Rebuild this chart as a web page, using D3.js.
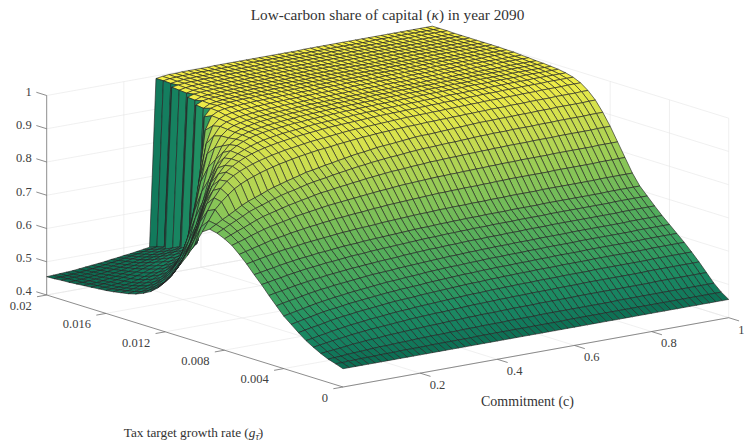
<!DOCTYPE html>
<html>
<head>
<meta charset="utf-8">
<style>
	body { margin: 0; background: #fff; }
	svg { display: block; font-family: "Liberation Serif", "DejaVu Serif", serif; }
</style>
</head>
<body>
<div id="chart"></div>
<script src="https://cdnjs.cloudflare.com/ajax/libs/d3/7.8.5/d3.min.js"></script>
<script>
var zTicks = [0.4, 0.5, 0.6, 0.7, 0.8, 0.9, 1];
var zLabels = ['0.4', '0.5', '0.6', '0.7', '0.8', '0.9', '1'];
var cTicks = [0.2, 0.4, 0.6, 0.8, 1];
var cLabels = ['0.2', '0.4', '0.6', '0.8', '1'];
var gTicks = [0, 0.004, 0.008, 0.012, 0.016, 0.02];
var gLabels = ['0', '0.004', '0.008', '0.012', '0.016', '0.02'];

// grid of the surface: 61 commitment columns, 41 tax growth rows
var commitment = d3.range(61).map(function (i) { return i / 60; });
var taxGrowth = d3.range(41).map(function (i) { return i * 0.0005; });

// kappa x 1000, one row per taxGrowth value
var kappa = [
[455,455,455,455,455,455,455,455,455,455, 455,455,455,455,455,455,455,455,455,455, 455,455,455,455,455,455,455,455,455,455, 455,455,455,455,455,455,455,455,455,455, 455,455,455,455,455,455,455,455,455,455, 455,455,455,455,455,455,455,455,455,455,455],
[463,463,464,464,465,465,465,466,466,466, 467,467,467,467,467,468,468,468,468,468, 468,468,469,469,469,469,469,469,469,469, 469,469,469,469,469,469,470,470,470,470, 470,470,470,470,470,470,470,470,470,470, 470,470,470,470,470,470,470,470,470,470,470],
[470,471,472,474,475,476,477,478,479,479, 480,481,481,482,483,483,484,484,484,485, 485,486,486,486,487,487,487,487,488,488, 488,488,488,489,489,489,489,489,489,489, 489,489,489,489,489,490,490,490,490,490, 490,490,490,490,490,490,490,490,490,490,490],
[480,482,484,486,488,491,492,494,495,496, 498,499,500,501,502,503,504,505,505,506, 507,507,508,509,509,510,510,510,511,511, 512,512,512,512,513,513,513,513,513,513, 514,514,514,514,514,514,514,514,514,514, 514,514,515,515,515,515,515,515,515,515,515],
[492,495,498,501,504,506,509,511,513,515, 516,518,519,521,522,524,525,526,527,528, 528,529,530,531,532,533,533,534,534,535, 535,536,536,536,537,537,537,537,538,538, 538,538,539,539,539,539,539,539,539,539, 539,539,540,540,540,540,540,540,540,540,540],
[505,508,512,515,519,522,525,528,530,532, 535,536,538,540,542,543,544,546,547,548, 549,550,551,552,553,554,555,555,556,557, 557,558,558,559,559,559,560,560,560,560, 561,561,561,561,561,562,562,562,562,562, 562,562,562,562,563,563,563,563,563,563,563],
[522,526,530,533,537,541,544,547,549,552, 554,556,558,560,562,564,565,566,567,569, 570,571,572,573,574,575,576,577,577,578, 579,579,580,580,581,581,581,582,582,582, 582,583,583,583,583,583,584,584,584,584, 584,584,584,584,584,585,585,585,585,585,585],
[540,544,548,552,556,560,563,565,568,571, 573,575,577,579,581,583,584,586,587,588, 589,591,592,593,594,595,596,597,597,598, 599,599,600,600,600,601,601,601,602,602, 602,603,603,603,603,603,604,604,604,604, 604,604,604,604,604,605,605,605,605,605,605],
[558,562,566,570,574,578,581,584,587,589, 592,594,596,598,600,602,604,605,606,608, 609,610,612,613,614,615,616,616,617,618, 618,619,620,620,620,621,621,621,622,622, 622,623,623,623,623,623,624,624,624,624, 624,624,624,624,624,625,625,625,625,625,625],
[582,586,590,593,597,601,604,607,609,612, 614,616,618,620,622,624,625,626,627,629, 630,631,632,633,634,635,636,637,637,638, 639,639,640,640,641,641,641,642,642,642, 642,643,643,643,643,643,644,644,644,644, 644,644,644,644,644,645,645,645,645,645,645],
[606,610,613,617,621,624,627,630,632,635, 637,639,641,643,644,646,647,649,650,651, 652,654,655,656,657,658,658,659,660,660, 661,662,662,662,663,663,663,664,664,664, 665,665,665,665,666,666,666,666,666,666, 666,666,666,666,666,667,667,667,667,667,667],
[632,635,639,642,646,649,652,655,657,659, 662,663,665,667,669,670,671,673,674,675, 676,677,678,679,680,681,682,682,683,684, 684,685,685,686,686,686,687,687,687,687, 688,688,688,688,688,689,689,689,689,689, 689,689,689,689,689,690,690,690,690,690,690],
[655,658,662,665,669,672,675,678,680,682, 685,686,688,690,692,693,694,696,697,698, 699,700,701,702,703,704,705,705,706,707, 707,708,708,709,709,709,710,710,710,710, 711,711,711,711,711,712,712,712,712,712, 712,712,712,712,712,713,713,713,713,713,713],
[680,684,688,692,696,700,703,705,708,711, 713,715,717,719,721,723,724,726,727,728, 729,731,732,733,734,735,736,737,737,738, 739,739,740,740,740,741,741,741,742,742, 742,743,743,743,743,743,744,744,744,744, 744,744,744,744,744,745,745,745,745,745,745],
[702,707,712,717,722,727,731,734,738,741, 744,747,749,752,754,757,758,760,762,763, 765,767,768,770,771,772,773,774,775,776, 777,778,778,779,779,780,780,780,781,781, 782,782,783,783,783,783,783,783,783,784, 784,784,784,784,784,784,785,785,785,785,785],
[722,728,734,741,747,753,758,762,766,770, 775,778,781,784,787,790,792,794,796,798, 800,802,804,806,807,809,811,812,813,814, 815,816,817,817,818,818,819,819,820,820, 821,821,822,822,822,823,823,823,823,823, 824,824,824,824,824,824,824,825,825,825,825],
[735,743,751,758,766,774,781,786,791,796, 801,805,809,813,817,821,823,826,829,831, 834,836,839,841,843,845,847,848,849,851, 852,853,855,855,856,857,857,858,859,859, 860,860,861,861,862,862,862,862,863,863, 863,863,864,864,864,864,864,864,865,865,865],
[745,754,764,773,782,792,799,805,812,818, 824,829,833,838,843,847,850,853,857,860, 863,866,869,871,874,876,878,880,881,883, 885,886,888,888,889,890,891,891,892,893, 894,895,895,896,896,896,897,897,897,897, 898,898,898,899,899,899,899,899,900,900,900],
[750,761,772,782,793,804,813,820,827,835, 842,847,853,858,863,869,872,876,880,883, 887,890,894,897,899,902,905,907,908,910, 912,914,916,917,917,918,919,920,921,922, 923,924,925,925,925,926,926,926,927,927, 927,928,928,928,929,929,929,929,929,930,930],
[735,765,795,815,832,847,858,867,874,881, 887,892,897,901,905,909,912,915,918,920, 922,925,927,929,931,933,934,936,937,938, 939,940,941,941,942,943,943,944,944,945, 945,946,946,947,947,948,948,948,949,949, 949,950,950,950,950,951,951,951,951,952,952],
[690,740,785,820,845,863,876,886,894,901, 907,912,917,921,925,928,931,934,937,939, 941,943,945,947,949,950,951,952,953,954, 955,956,957,958,958,959,959,960,960,961, 961,962,962,963,963,964,964,964,965,965, 965,966,966,966,967,967,967,967,968,968,968],
[650,690,745,795,832,860,880,894,905,914, 921,927,932,936,940,943,946,949,951,953, 955,957,959,960,961,962,963,964,965,966, 967,967,968,968,969,969,970,970,971,971, 972,972,973,973,974,974,975,975,975,976, 976,976,977,977,977,977,978,978,978,978,978],
[615,645,685,735,790,835,868,890,906,918, 927,934,940,945,949,952,955,957,959,961, 963,965,966,967,968,969,970,971,972,973, 973,974,975,975,976,976,977,977,978,978, 979,979,980,980,980,981,981,981,982,982, 982,983,983,983,983,984,984,984,984,984,984],
[580,603,632,670,720,780,835,875,902,920, 932,941,948,953,957,960,962,964,966,968, 969,971,972,973,974,975,976,977,977,978, 979,979,980,980,981,981,982,982,983,983, 984,984,984,985,985,985,986,986,986,986, 987,987,987,987,987,988,988,988,988,988,988],
[550,565,588,615,650,700,765,825,875,908, 928,941,950,956,960,963,966,968,970,972, 973,975,976,977,978,979,980,980,981,982, 982,983,983,984,984,985,985,985,986,986, 986,987,987,987,988,988,988,988,989,989, 989,989,989,989,990,990,990,990,990,990,990],
[525,537,552,572,600,640,695,760,825,880, 917,938,951,958,963,967,970,972,974,975, 977,978,979,980,981,982,982,983,984,984, 985,985,986,986,987,987,987,988,988,988, 989,989,989,989,990,990,990,990,990,991, 991,991,991,991,991,992,992,992,992,992,992],
[507,516,527,543,565,595,640,705,780,850, 905,937,953,961,966,970,972,975,976,978, 979,980,981,982,983,984,984,985,985,986, 986,987,987,988,988,988,989,989,989,990, 990,990,990,991,991,991,991,991,992,992, 992,992,992,992,992,993,993,993,993,993,993],
[495,501,510,522,537,560,590,640,715,800, 880,930,955,965,970,974,976,978,980,981, 982,983,984,985,985,986,987,987,988,988, 989,989,990,990,990,991,991,991,992,992, 992,992,993,993,993,993,993,994,994,994, 994,994,994,994,995,995,995,995,995,995,995],
[486,490,496,505,516,530,548,575,620,700, 800,900,950,968,975,979,981,983,984,985, 986,987,988,988,989,989,990,990,991,991, 991,992,992,992,993,993,993,993,994,994, 994,994,994,995,995,995,995,995,995,995, 996,996,996,996,996,996,996,996,996,996,996],
[480,483,487,493,501,511,523,538,557,585, 640,780,930,970,980,984,986,987,988,989, 990,990,991,991,992,992,992,993,993,993, 994,994,994,994,995,995,995,995,995,995, 996,996,996,996,996,996,996,997,997,997, 997,997,997,997,997,997,998,998,998,998,998],
[476,478,481,486,492,499,508,519,530,541, 553,568,590,960,982,987,989,990,991,992, 992,993,993,993,994,994,994,994,995,995, 995,995,995,996,996,996,996,996,996,997, 997,997,997,997,997,997,997,998,998,998, 998,998,998,998,998,998,998,998,998,998,998],
[472,474,476,480,485,491,498,506,515,525, 535,546,558,572,975,985,988,990,991,992, 993,993,994,994,994,995,995,995,995,996, 996,996,996,996,996,997,997,997,997,997, 997,997,997,998,998,998,998,998,998,998, 998,998,998,998,998,998,998,999,999,999,999],
[469,470,472,475,479,484,490,497,505,513, 522,531,541,552,978,987,990,991,992,993, 994,994,994,995,995,995,995,996,996,996, 996,996,997,997,997,997,997,997,997,998, 998,998,998,998,998,998,998,998,998,998, 999,999,999,999,999,999,999,999,999,999,999],
[467,468,470,472,476,480,485,491,498,505, 513,521,529,537,546,982,989,991,992,993, 994,994,995,995,995,996,996,996,996,996, 997,997,997,997,997,997,997,998,998,998, 998,998,998,998,998,998,998,999,999,999, 999,999,999,999,999,999,999,999,999,999,999],
[465,466,468,470,473,477,481,486,492,498, 505,512,519,526,534,984,990,992,993,994, 994,995,995,995,996,996,996,996,997,997, 997,997,997,997,998,998,998,998,998,998, 998,998,998,999,999,999,999,999,999,999, 999,999,999,999,999,999,999,999,999,999,999],
[463,464,465,467,470,473,477,481,486,491, 497,503,509,515,521,528,986,991,993,994, 995,995,996,996,996,996,997,997,997,997, 997,998,998,998,998,998,998,998,998,998, 999,999,999,999,999,999,999,999,999,999, 999,999,999,999,999,999,999,999,999,999,999],
[461,462,463,465,467,470,473,477,481,485, 490,495,500,505,511,517,988,992,994,995, 995,996,996,996,997,997,997,997,997,998, 998,998,998,998,998,998,998,999,999,999, 999,999,999,999,999,999,999,999,999,999, 999,999,999,999,999,999,999,999,999,999,999],
[459,460,461,463,465,467,470,473,476,480, 484,488,493,497,502,507,990,993,995,996, 996,997,997,997,997,998,998,998,998,998, 998,998,998,999,999,999,999,999,999,999, 999,999,999,999,999,999,999,999,999,999, 999,999,999,999,999,999,999,999,999,999,999],
[458,459,460,461,463,465,467,470,473,476, 480,484,487,491,495,499,503,991,994,996, 996,997,997,997,998,998,998,998,998,998, 998,999,999,999,999,999,999,999,999,999, 999,999,999,999,999,999,999,999,999,999, 999,999,999,999,999,1000,1000,1000,1000,1000,1000],
[456,457,458,459,461,463,465,467,470,473, 476,479,482,485,489,492,496,992,995,996, 997,997,998,998,998,998,998,998,999,999, 999,999,999,999,999,999,999,999,999,999, 999,999,999,999,999,999,999,999,999,999, 1000,1000,1000,1000,1000,1000,1000,1000,1000,1000,1000],
[455,456,457,458,459,461,463,465,467,469, 472,474,477,479,482,485,488,992,995,997, 997,998,998,998,998,998,999,999,999,999, 999,999,999,999,999,999,999,999,999,999, 1000,1000,1000,1000,1000,1000,1000,1000,1000,1000, 1000,1000,1000,1000,1000,1000,1000,1000,1000,1000,1000]
];

var colorStops = [0.4, 0.455, 0.5, 0.55, 0.6, 0.7, 0.8, 0.9, 1];
var colorValues = ['#03443a', '#0b6a50', '#158060', '#1f8f63', '#389f5f', '#5fb35a', '#8fc857', '#c8dc50', '#f8f045'];

var SurfaceChart = function (el) {
	this.svg = d3.select(el).append('svg').attr('width', 744).attr('height', 440);
	this.color = d3.scaleLinear().domain(colorStops).range(colorValues);
	this.scales = this.setScales();

	this.addGrid();
	this.addAxes();
	this.addSurface();
	this.addTitles();
};

SurfaceChart.prototype = {
	origin: {x: 343, y: 387},

	// orthographic view: each data axis moves the screen point along a fixed direction
	setScales: function () {
		return {
			xc: d3.scaleLinear().domain([0, 1]).range([0, 385.7]),
			xg: d3.scaleLinear().domain([0, 0.02]).range([0, -296.3]),
			yc: d3.scaleLinear().domain([0, 1]).range([0, -69.3]),
			yg: d3.scaleLinear().domain([0, 0.02]).range([0, -92]),
			yz: d3.scaleLinear().domain([0.4, 1]).range([0, -199.5])
		};
	},

	project: function (c, g, z) {
		var s = this.scales;
		return [
			this.origin.x + s.xc(c) + s.xg(g),
			this.origin.y + s.yc(c) + s.yg(g) + s.yz(z)
		];
	},

	addLine: function (group, a, b) {
		return group.append('line')
			.attr('x1', a[0]).attr('y1', a[1])
			.attr('x2', b[0]).attr('y2', b[1]);
	},

	addGrid: function () {
		var that = this;
		var g = this.svg.append('g').attr('stroke', '#e6e6e6').attr('stroke-width', 0.6);

		cTicks.forEach(function (c) {
			that.addLine(g, that.project(c, 0, 0.4), that.project(c, 0.02, 0.4));
			that.addLine(g, that.project(c, 0.02, 0.4), that.project(c, 0.02, 1));
		});
		gTicks.forEach(function (t) {
			that.addLine(g, that.project(0, t, 0.4), that.project(1, t, 0.4));
			that.addLine(g, that.project(1, t, 0.4), that.project(1, t, 1));
		});
		zTicks.forEach(function (z) {
			that.addLine(g, that.project(0, 0.02, z), that.project(1, 0.02, z));
			that.addLine(g, that.project(1, 0.02, z), that.project(1, 0, z));
		});
	},

	addAxes: function () {
		var that = this;
		var g = this.svg.append('g').attr('stroke', '#707070').attr('stroke-width', 0.8);
		var labels = this.svg.append('g')
			.attr('fill', '#404040')
			.attr('font-size', 12.5);

		this.addLine(g, this.project(0, 0.02, 0.4), this.project(0, 0.02, 1));
		this.addLine(g, this.project(0, 0, 0.4), this.project(1, 0, 0.4));
		this.addLine(g, this.project(0, 0, 0.4), this.project(0, 0.02, 0.4));

		zTicks.forEach(function (z, i) {
			var p = that.project(0, 0.02, z);
			that.addLine(g, p, that.project(0, 0.0207, z));
			labels.append('text').attr('x', p[0] - 15).attr('y', p[1] - 4)
				.attr('dy', '0.35em').attr('text-anchor', 'end').text(zLabels[i]);
		});
		cTicks.forEach(function (c, i) {
			var p = that.project(c, 0, 0.4);
			that.addLine(g, p, that.project(c, -0.0007, 0.4));
			labels.append('text').attr('x', p[0] + 9.5).attr('y', p[1] + 11.5)
				.attr('dy', '0.35em').text(cLabels[i]);
		});
		gTicks.forEach(function (t, i) {
			var p = that.project(0, t, 0.4);
			that.addLine(g, p, that.project(-0.025, t, 0.4));
			labels.append('text').attr('x', p[0] - 15).attr('y', p[1] + 10.5)
				.attr('dy', '0.35em').attr('text-anchor', 'end').text(gLabels[i]);
		});
	},

	// back to front, so nearer cells paint over farther ones
	addSurface: function () {
		var that = this;
		var g = this.svg.append('g')
			.attr('stroke', '#222')
			.attr('stroke-width', 0.8)
			.attr('stroke-opacity', 0.8)
			.attr('stroke-linejoin', 'round');
		var i, j;

		for (i = taxGrowth.length - 2; i >= 0; i--) {
			for (j = commitment.length - 2; j >= 0; j--) {
				g.append('path')
					.attr('d', 'M' + [
						that.vertex(i, j),
						that.vertex(i, j + 1),
						that.vertex(i + 1, j + 1),
						that.vertex(i + 1, j)
					].join('L') + 'Z')
					.attr('fill', that.color(kappa[i + 1][j] / 1000));
			}
		}
	},

	vertex: function (i, j) {
		return this.project(commitment[j], taxGrowth[i], kappa[i][j] / 1000);
	},

	addTitles: function () {
		var g = this.svg.append('g').attr('fill', '#333');
		var title = g.append('text').attr('x', 387.5).attr('y', 19.5).attr('text-anchor', 'middle').attr('font-size', 15.3);
		title.append('tspan').text('Low-carbon share of capital (');
		title.append('tspan').attr('font-style', 'italic').text('κ');
		title.append('tspan').text(') in year 2090');

		g.append('text').attr('x', 527.5).attr('y', 406).attr('text-anchor', 'middle').attr('font-size', 14).text('Commitment (c)');

		var tax = g.append('text').attr('x', 193.5).attr('y', 437).attr('text-anchor', 'middle').attr('font-size', 13.3);
		tax.append('tspan').text('Tax target growth rate (');
		tax.append('tspan').attr('font-style', 'italic').text('g');
		tax.append('tspan').attr('font-style', 'italic').attr('font-size', 9.5).attr('dy', 2.5).text('τ\u0304');
		tax.append('tspan').attr('dy', -2.5).text(')');
	}
};

new SurfaceChart('#chart');
</script>
</body>
</html>
